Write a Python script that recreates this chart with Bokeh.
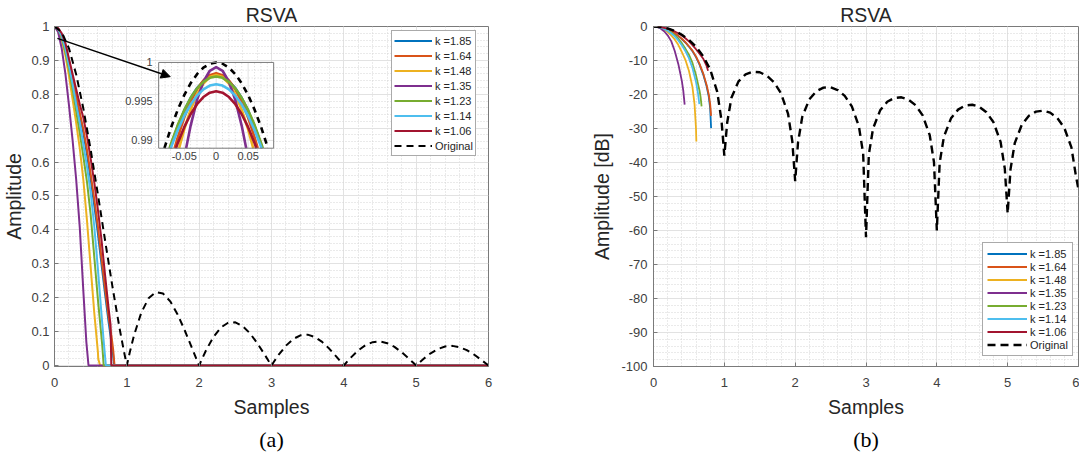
from bokeh.plotting import figure
from bokeh.models import (Range1d, SingleIntervalTicker, NumeralTickFormatter, Legend,
                          LegendItem, Title, Arrow, NormalHead)
from bokeh.layouts import row
from bokeh.embed import file_html
from bokeh.resources import INLINE
from bokeh.core.properties import value

FONT = "Liberation Sans"

# ---------------- data ----------------
k_labels = ["k =1.85", "k =1.64", "k =1.48", "k =1.35", "k =1.23", "k =1.14", "k =1.06"]
k_colors = ["#0072BD", "#D95319", "#EDB120", "#7E2F8E", "#77AC30", "#4DBEEE", "#A2142F"]

# Original (sinc) samples
orig_x = [0, 0.1, 0.2, 0.3, 0.4, 0.5, 0.6, 0.7, 0.8, 0.9, 0.96, 1.0, 1.04,
          1.1, 1.2, 1.3, 1.4, 1.5, 1.6, 1.7, 1.8, 1.9, 1.96, 2.0, 2.04,
          2.1, 2.2, 2.3, 2.4, 2.5, 2.6, 2.7, 2.8, 2.9, 2.96, 3.0, 3.04,
          3.1, 3.2, 3.3, 3.4, 3.5, 3.6, 3.7, 3.8, 3.9, 3.96, 4.0, 4.04,
          4.1, 4.2, 4.3, 4.4, 4.5, 4.6, 4.7, 4.8, 4.9, 4.96, 5.0, 5.04,
          5.1, 5.2, 5.3, 5.4, 5.5, 5.6, 5.7, 5.8, 5.9, 5.96, 6.0]
orig_amp = [1.0, 0.98363, 0.93549, 0.85839, 0.75683, 0.63662, 0.50455, 0.36788, 0.23387, 0.10929, 0.04156, 0.0, 0.03836,
            0.08942, 0.15592, 0.19809, 0.21624, 0.21221, 0.18921, 0.15148, 0.10394, 0.05177, 0.02035, 0.0, 0.01956,
            0.04684, 0.08505, 0.11196, 0.12614, 0.12732, 0.11643, 0.09538, 0.06682, 0.03392, 0.01348, 0.0, 0.01312,
            0.03173, 0.05847, 0.07804, 0.08904, 0.09095, 0.08409, 0.06960, 0.04924, 0.02522, 0.01007, 0.0, 0.00987,
            0.02399, 0.04455, 0.05989, 0.06880, 0.07074, 0.06581, 0.05479, 0.03898, 0.02007, 0.00804, 0.0, 0.00792,
            0.01929, 0.03598, 0.04859, 0.05606, 0.05787, 0.05406, 0.04518, 0.03226, 0.01667, 0.00669, 0.0]
orig_db = [0.0, -0.14, -0.58, -1.33, -2.42, -3.92, -5.94, -8.69, -12.62, -19.23, -27.63, -38.0, -28.32,
           -20.97, -16.14, -14.06, -13.30, -13.46, -14.46, -16.39, -19.66, -25.72, -33.83, -45.5, -34.17,
           -26.59, -21.41, -19.02, -17.98, -17.90, -18.68, -20.41, -23.50, -29.39, -37.41, -62.0, -37.64,
           -29.97, -24.66, -22.15, -21.01, -20.82, -21.51, -23.15, -26.15, -31.97, -39.94, -60.0, -40.11,
           -32.40, -27.02, -24.45, -23.25, -23.01, -23.63, -25.23, -28.18, -33.95, -41.89, -55.0, -42.03,
           -34.29, -28.88, -26.27, -25.03, -24.75, -25.34, -26.90, -29.83, -35.56, -43.49, -48.0]

# RSVA curves, linear amplitude (a)
lin_x = [
    [0, .05, .1, .15, .2, .25, .3, .35, .4, .45, .5, .55, .6, .65, .7, .75, .8, .81, .825, 6],
    [0, .05, .1, .15, .2, .25, .3, .35, .4, .45, .5, .55, .6, .65, .7, .75, .79, .81, .83, 6],
    [0, .05, .1, .15, .2, .25, .3, .35, .4, .45, .5, .55, .6, .605, .63, 6],
    [0, .05, .1, .15, .2, .25, .3, .35, .4, .44, .47, 6],
    [0, .05, .1, .15, .2, .25, .3, .35, .4, .45, .5, .55, .6, .65, .66, .68, 6],
    [0, .05, .1, .15, .2, .25, .3, .35, .4, .45, .5, .55, .6, .65, .68, .71, 6],
    [0, .05, .1, .15, .2, .25, .3, .35, .4, .45, .5, .55, .6, .65, .7, .75, .775, .785, 6],
]
lin_amp = [
    [1, .994, .975, .943, .897, .846, .79, .738, .685, .622, .55, .472, .39, .298, .21, .125, .05, .032, 0, 0],
    [1, .994, .976, .945, .9, .85, .795, .745, .695, .635, .565, .49, .41, .315, .225, .14, .083, .048, 0, 0],
    [1, .99, .962, .915, .855, .785, .715, .64, .545, .425, .29, .155, .04, .02, 0, 0],
    [1, .984, .935, .862, .768, .665, .548, .405, .215, .07, 0, 0],
    [1, .992, .968, .925, .875, .815, .75, .685, .615, .54, .445, .32, .195, .083, .06, 0, 0],
    [1, .993, .972, .935, .885, .83, .77, .715, .65, .585, .51, .41, .285, .15, .072, 0, 0],
    [1, .995, .98, .952, .905, .86, .815, .77, .73, .675, .61, .54, .46, .37, .265, .165, .12, 0, 0],
]

# RSVA curves, dB (b)
db_x = [
    [0, .05, .1, .15, .2, .25, .3, .35, .4, .45, .5, .55, .6, .65, .7, .75, .78, .8, .813],
    [0, .05, .1, .15, .2, .25, .3, .35, .4, .45, .5, .55, .6, .65, .7, .75, .78, .8, .813],
    [0, .05, .1, .15, .2, .25, .3, .35, .4, .45, .5, .55, .58, .6, .605],
    [0, .05, .1, .15, .2, .25, .3, .35, .4, .42, .44],
    [0, .05, .1, .15, .2, .25, .3, .35, .4, .45, .5, .55, .6, .65, .665, .679],
    [0, .05, .1, .15, .2, .25, .3, .35, .4, .45, .5, .55, .6, .63, .647],
    [0, .05, .1, .15, .2, .25, .3, .35, .4, .45, .5, .55, .6, .65, .7, .75, .77],
]
db_val = [
    [0, -.06, -.22, -.5, -.9, -1.42, -2.05, -2.8, -3.7, -4.7, -5.9, -7.25, -9.0, -11.2, -14.0, -17.6, -20.6, -24.0, -29.9],
    [0, -.06, -.22, -.5, -.88, -1.4, -2.0, -2.75, -3.6, -4.6, -5.8, -7.1, -8.8, -11.0, -13.7, -17.2, -20.0, -22.8, -26.3],
    [0, -.1, -.4, -.9, -1.6, -2.6, -3.8, -5.4, -7.5, -9.8, -13.0, -17.8, -23.0, -30.0, -33.8],
    [0, -.15, -.6, -1.4, -2.6, -4.3, -7.2, -11.0, -16.0, -18.8, -23.0],
    [0, -.07, -.27, -.62, -1.1, -1.75, -2.55, -3.6, -4.9, -6.5, -8.3, -10.7, -14.3, -18.9, -20.8, -23.5],
    [0, -.08, -.3, -.7, -1.25, -2.0, -2.9, -4.1, -5.5, -7.2, -9.3, -12.2, -16.3, -19.9, -22.8],
    [0, -.04, -.16, -.37, -.65, -1.0, -1.45, -2.0, -2.65, -3.45, -4.4, -5.5, -6.7, -8.0, -9.4, -11.6, -13.0],
]

# Inset (zoom around the peak), half curves x >= 0
ins_x = [
    [0, .01, .02, .03, .04, .05, .06, .07, .072],
    [0, .01, .02, .03, .04, .05, .06, .065],
    [0, .01, .02, .03, .04, .05, .058],
    [0, .01, .02, .03, .04, .047],
    [0, .01, .02, .03, .04, .05, .06, .07, .073],
    [0, .01, .02, .03, .04, .05, .06, .07, .071],
    [0, .01, .02, .03, .04, .05, .06, .063],
]
ins_y = [
    [.9983, .99812, .99758, .99669, .99543, .99381, .99184, .98951, .989],
    [.9986, .99837, .99769, .99655, .99496, .99292, .99042, .989],
    [.9984, .99812, .99728, .99589, .99393, .99141, .989],
    [.9994, .99893, .99752, .99516, .99187, .989],
    [.9982, .99803, .99751, .99665, .99544, .99388, .99199, .98974, .989],
    [.9972, .99704, .99655, .99574, .99460, .99313, .99134, .98923, .989],
    [.9963, .99612, .99556, .99464, .99336, .99170, .98968, .989],
]
ins_orig_x = [0, .01, .02, .03, .04, .05, .06, .07, .08, .081]
ins_orig_y = [1.0, .99983, .99933, .99849, .99732, .99581, .99396, .99179, .98927, .989]

ins_xticks = [-0.05, 0.0, 0.05]
ins_xlabels = ["-0.05", "0", "0.05"]
ins_yticks = [0.99, 0.995, 1.0]
ins_ylabels = ["0.99", "0.995", "1"]


def mirror(xs, ys):
    fx = [-v for v in reversed(xs[1:])] + list(xs)
    fy = list(reversed(ys[1:])) + list(ys)
    return fx, fy


AX = "#7a7a7a"


def style(p, x_int, y_int, yfmt, ylabel, y_label_standoff, tick_standoff):
    p.title.align = "center"
    p.title.text_font = FONT
    p.title.text_font_size = "19.5px"
    p.title.text_font_style = "normal"
    p.title.text_color = "#262626"
    p.title.standoff = 2
    p.background_fill_color = "white"
    p.border_fill_color = "white"
    p.outline_line_color = AX
    p.outline_line_width = 1
    p.xaxis.ticker = SingleIntervalTicker(interval=x_int, num_minor_ticks=5)
    p.yaxis.ticker = SingleIntervalTicker(interval=y_int, num_minor_ticks=5)
    p.yaxis.formatter = NumeralTickFormatter(format=yfmt)
    p.xaxis.axis_label = "Samples"
    p.yaxis.axis_label = ylabel
    for ax in (p.xaxis[0], p.yaxis[0]):
        ax.axis_line_color = AX
        ax.major_tick_line_color = AX
        ax.major_tick_in = 4
        ax.major_tick_out = 0
        ax.minor_tick_in = 0
        ax.minor_tick_out = 0
        ax.major_label_text_font = FONT
        ax.major_label_text_font_size = "13px"
        ax.major_label_text_color = "#404040"
        ax.axis_label_text_font = FONT
        ax.axis_label_text_font_size = "19.5px"
        ax.axis_label_text_font_style = "normal"
        ax.axis_label_text_color = "#262626"
    p.xaxis.major_label_standoff = 11
    p.xaxis.axis_label_standoff = 6
    p.yaxis.major_label_standoff = tick_standoff
    p.yaxis.axis_label_standoff = y_label_standoff
    for g in (p.xgrid[0], p.ygrid[0]):
        g.grid_line_color = "#e2e2e2"
        g.grid_line_width = 1
        g.minor_grid_line_color = "#d4d4d4"
        g.minor_grid_line_dash = "1 2"
        g.minor_grid_line_width = 1


def make_legend(renderers, loc, item_h, pad, glyph_w):
    items = [LegendItem(label=l, renderers=[r]) for l, r in zip(k_labels + ["Original"], renderers)]
    return Legend(items=items, location=loc, label_text_font=FONT, label_text_font_size="11px",
                  label_text_color="#262626", glyph_width=glyph_w, glyph_height=item_h, label_height=item_h,
                  label_standoff=3, padding=pad, spacing=0, margin=0,
                  border_line_color="#555555", border_line_width=1,
                  background_fill_color="white", background_fill_alpha=1.0)


# ---------------- (a) linear ----------------
FW1, FH = 434, 340
p1 = figure(frame_width=FW1, frame_height=FH, min_border_left=47, min_border_right=71,
            min_border_top=20, min_border_bottom=82, title="RSVA",
            x_range=Range1d(0, 6), y_range=Range1d(-0.003, 1),
            output_backend="svg", toolbar_location=None)
style(p1, 1, 0.1, "0.[0]", "Amplitude", 3, 5)
p1.xaxis.axis_line_color = None

rend1 = []
for xs, ys, c in zip(lin_x, lin_amp, k_colors):
    rend1.append(p1.line(xs, ys, line_color=c, line_width=2))
rend1.append(p1.line(orig_x, orig_amp, line_color="black", line_width=2, line_dash="7 5"))

# inset placed in main-axes units, with its own ranges
BX0, BX1, BY0, BY1 = 1.44, 3.03, 0.641, 0.894
IX0, IX1, IY0, IY1 = -0.09, 0.09, 0.989, 1.0
YS = -0.003
sx = (IX1 - IX0) / (BX1 - BX0)
sy = (IY1 - IY0) / (BY1 - BY0)
p1.extra_x_ranges = {"ix": Range1d(IX0 - BX0 * sx, IX0 + (6 - BX0) * sx)}
p1.extra_y_ranges = {"iy": Range1d(IY0 - (BY0 - YS) * sy, IY0 + (1 - BY0) * sy)}

p1.quad(left=[BX0], right=[BX1], bottom=[BY0], top=[BY1], fill_color="white", line_color=None)
minor_x = [-0.08, -0.07, -0.06, -0.04, -0.03, -0.02, -0.01, 0.01, 0.02, 0.03, 0.04, 0.06, 0.07, 0.08]
minor_y = [0.991, 0.992, 0.993, 0.994, 0.996, 0.997, 0.998, 0.999]
p1.segment(x0=minor_x, x1=minor_x, y0=[BY0] * len(minor_x), y1=[BY1] * len(minor_x),
           x_range_name="ix", line_color="#dadada", line_dash="1 2", line_width=1)
p1.segment(x0=[BX0] * len(minor_y), x1=[BX1] * len(minor_y), y0=minor_y, y1=minor_y,
           y_range_name="iy", line_color="#dadada", line_dash="1 2", line_width=1)
p1.segment(x0=ins_xticks, x1=ins_xticks, y0=[BY0] * 3, y1=[BY1] * 3,
           x_range_name="ix", line_color="#e2e2e2", line_width=1)
p1.segment(x0=[BX0] * 2, x1=[BX1] * 2, y0=ins_yticks[:2], y1=ins_yticks[:2],
           y_range_name="iy", line_color="#e2e2e2", line_width=1)
for xs, ys, c in zip(ins_x, ins_y, k_colors):
    fx, fy = mirror(xs, ys)
    p1.line(fx, fy, line_color=c, line_width=2.6, x_range_name="ix", y_range_name="iy")
fx, fy = mirror(ins_orig_x, ins_orig_y)
p1.line(fx, fy, line_color="black", line_width=2.6, line_dash="6 5", x_range_name="ix", y_range_name="iy")
p1.quad(left=[BX0], right=[BX1], bottom=[BY0], top=[BY1], fill_alpha=0, line_color=AX, line_width=1)
p1.text(x=ins_xticks, y=[BY0] * 3, text=ins_xlabels, x_range_name="ix", text_align="center",
        text_baseline="top", y_offset=4, text_font=value(FONT), text_font_size="11px", text_color="#404040")
p1.text(x=[BX0] * 3, y=ins_yticks, text=ins_ylabels, y_range_name="iy", text_align="right",
        text_baseline="middle", x_offset=-6, text_font=value(FONT), text_font_size="11px", text_color="#404040")
p1.add_layout(Arrow(end=NormalHead(size=9, fill_color="black", line_color="black"),
                    x_start=0.04, y_start=0.965, x_end=1.60, y_end=0.852,
                    line_color="black", line_width=1.5))

p1.add_layout(make_legend(rend1, (337, 210), 15, 2, 38))
p1.add_layout(Title(text="(a)", align="center", offset=-10, text_font="Liberation Serif",
                    text_font_size="22px", text_font_style="normal", text_color="black", standoff=9), "below")

# ---------------- (b) dB ----------------
FW2 = 425
p2 = figure(frame_width=FW2, frame_height=FH, min_border_left=94, min_border_right=1,
            min_border_top=20, min_border_bottom=82, title="RSVA",
            x_range=Range1d(0, 6), y_range=Range1d(-100, 0),
            output_backend="svg", toolbar_location=None)
style(p2, 1, 10, "0", "Amplitude [dB]", 5, 6)

rend2 = []
for xs, ys, c in zip(db_x, db_val, k_colors):
    rend2.append(p2.line(xs, ys, line_color=c, line_width=1.8))
rend2.append(p2.line(orig_x, orig_db, line_color="black", line_width=2.4, line_dash="8 5"))
p2.add_layout(make_legend(rend2, (329, 10), 13, 4, 40))
p2.add_layout(Title(text="(b)", align="center", text_font="Liberation Serif",
                    text_font_size="22px", text_font_style="normal", text_color="black", standoff=9), "below")

layout = row(p1, p2)
open("out.html", "w").write(file_html(layout, INLINE))
